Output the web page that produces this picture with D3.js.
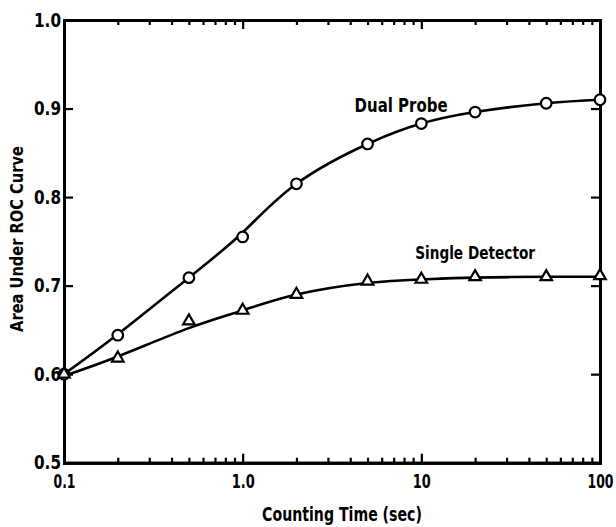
<!DOCTYPE html>
<html>
<head>
<meta charset="utf-8">
<script src="https://cdn.jsdelivr.net/npm/d3@7"></script>
<style>
  html, body { margin: 0; padding: 0; background: #fff; }
  svg { display: block; }
  text { font-family: "DejaVu Sans", sans-serif; font-weight: bold; fill: #000; }
</style>
</head>
<body>
<svg id="chart" width="616" height="527"></svg>
<script>
// ---- data ----
const countingTime = [0.1, 0.2, 0.5, 1, 2, 5, 10, 20, 50, 100];
const dualProbe     = [0.600, 0.644, 0.709, 0.755, 0.815, 0.860, 0.883, 0.896, 0.906, 0.910];
const singleDetector= [0.600, 0.618, 0.660, 0.672, 0.690, 0.705, 0.707, 0.710, 0.710, 0.711];
// smooth fitted curves drawn through the points
const dualCurve     = [0.600, 0.645, 0.709, 0.760, 0.815, 0.860, 0.883, 0.896, 0.906, 0.910];
const singleCurve   = [0.598, 0.620, 0.652, 0.672, 0.690, 0.703, 0.707, 0.709, 0.710, 0.710];
const xTickValues = [0.1, 1, 10, 100];
const xTickLabels = ["0.1", "1.0", "10", "100"];
const xMinorTicks = [0.2,0.3,0.4,0.5,0.6,0.7,0.8,0.9, 2,3,4,5,6,7,8,9, 20,30,40,50,60,70,80,90];
const yTickValues = [0.5, 0.6, 0.7, 0.8, 0.9, 1.0];
const yTickLabels = ["0.5", "0.6", "0.7", "0.8", "0.9", "1.0"];
const seriesNames = ["Dual Probe", "Single Detector"];
const xTitle = "Counting Time (sec)";
const yTitle = "Area Under ROC Curve";

// ---- layout ----
const L = 64, R = 600, T = 20, B = 462.7;
const svg = d3.select("#chart");
const x = d3.scaleLog().domain([0.1, 100]).range([L, R]);
const y = d3.scaleLinear().domain([0.5, 1.0]).range([B, T]);

const AXW = 3;
function styleAxis(g) {
  g.selectAll("path.domain").attr("stroke", "#000").attr("stroke-width", AXW).attr("stroke-linecap", "square");
  g.selectAll(".tick line").attr("stroke", "#000").attr("stroke-width", 2.2);
}
// squeeze a text element horizontally to a target width (condensed lettering of the original)
function fitWidth(sel, w) {
  const node = sel.node();
  const natural = node.getComputedTextLength();
  if (!natural) return;
  const sx = w / natural;
  const x0 = +(sel.attr("x") || 0);
  const tr = sel.attr("transform") || "";
  sel.attr("x", x0 / sx).attr("transform", (tr + ` scale(${sx},1)`).trim());
}

// bottom axis (major + minor ticks, inward)
const gB = svg.append("g").attr("transform", `translate(0,${B})`)
  .call(d3.axisBottom(x).tickValues(xTickValues).tickSize(-9).tickSizeOuter(0).tickPadding(12)
    .tickFormat((d, i) => xTickLabels[i]));
styleAxis(gB);
gB.selectAll("text").attr("font-size", 19).attr("font-family", null)
  .each(function(d, i) { fitWidth(d3.select(this), [22, 23, 18, 26][i]); });
const gBm = svg.append("g").attr("transform", `translate(0,${B})`)
  .call(d3.axisBottom(x).tickValues(xMinorTicks).tickSize(-5).tickSizeOuter(0).tickFormat(""));
styleAxis(gBm);

// top axis (mirrored ticks)
const gT = svg.append("g").attr("transform", `translate(0,${T})`)
  .call(d3.axisTop(x).tickValues(xTickValues).tickSize(-9).tickSizeOuter(0).tickFormat(""));
styleAxis(gT);
const gTm = svg.append("g").attr("transform", `translate(0,${T})`)
  .call(d3.axisTop(x).tickValues(xMinorTicks).tickSize(-5).tickSizeOuter(0).tickFormat(""));
styleAxis(gTm);

// left axis
const gL = svg.append("g").attr("transform", `translate(${L},0)`)
  .call(d3.axisLeft(y).tickValues(yTickValues).tickSize(-9).tickSizeOuter(0).tickPadding(3)
    .tickFormat((d, i) => yTickLabels[i]));
styleAxis(gL);
gL.selectAll("text").attr("font-size", 19).attr("font-family", null)
  .each(function() { fitWidth(d3.select(this), 27); });

// right axis
const gR = svg.append("g").attr("transform", `translate(${R},0)`)
  .call(d3.axisRight(y).tickValues(yTickValues).tickSize(-9).tickSizeOuter(0).tickFormat(""));
styleAxis(gR);

// curves
const line = d3.line().x(d => x(d[0])).y(d => y(d[1])).curve(d3.curveNatural);
const curves = [dualCurve, singleCurve];
curves.forEach(c => {
  svg.append("path")
    .datum(countingTime.map((t, i) => [t, c[i]]))
    .attr("d", line).attr("fill", "none").attr("stroke", "#000").attr("stroke-width", 2.6);
});

// markers
svg.append("g").selectAll("circle")
  .data(countingTime.map((t, i) => [t, dualProbe[i]]))
  .join("circle")
  .attr("cx", d => x(d[0])).attr("cy", d => y(d[1])).attr("r", 5.3)
  .attr("fill", "#fff").attr("stroke", "#000").attr("stroke-width", 2.2);

const tri = d3.symbol().type(d3.symbolTriangle).size(58);
svg.append("g").selectAll("path")
  .data(countingTime.map((t, i) => [t, singleDetector[i]]))
  .join("path")
  .attr("d", tri)
  .attr("transform", d => `translate(${x(d[0])},${y(d[1])})`)
  .attr("fill", "#fff").attr("stroke", "#000").attr("stroke-width", 2.2);

// series labels
svg.append("text").attr("x", x(7.7)).attr("y", y(0.8965)).attr("text-anchor", "middle")
  .attr("font-size", 20).text(seriesNames[0]).call(fitWidth, 93);
svg.append("text").attr("x", x(20)).attr("y", y(0.730)).attr("text-anchor", "middle")
  .attr("font-size", 18).text(seriesNames[1]).call(fitWidth, 120);

// axis titles
svg.append("text").attr("x", 342).attr("y", 521.5).attr("text-anchor", "middle")
  .attr("font-size", 20).text(xTitle).call(fitWidth, 160);
svg.append("text").attr("transform", "translate(23,239) rotate(-90)").attr("text-anchor", "middle")
  .attr("font-size", 18).text(yTitle).call(fitWidth, 186);
</script>
</body>
</html>
